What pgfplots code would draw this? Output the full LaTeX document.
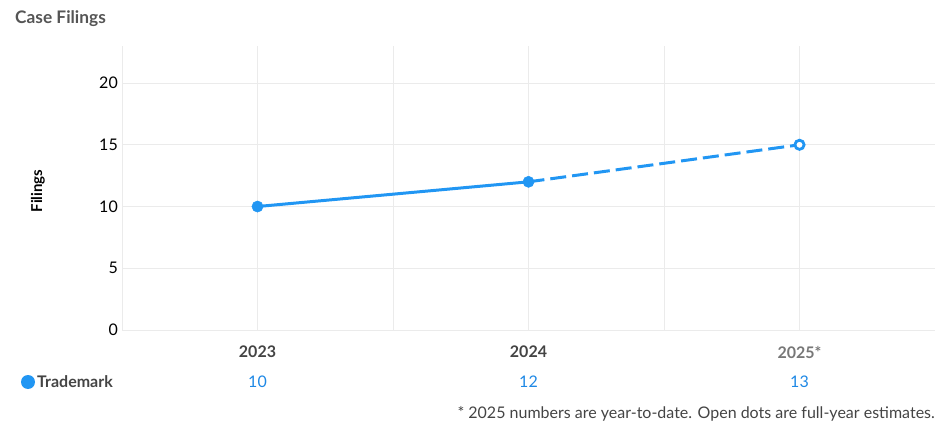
\documentclass[border=0pt]{standalone}
\usepackage{fontspec}
\setmainfont{Lato}
\usepackage{pgfplots}
\pgfplotsset{compat=1.18}
\definecolor{lineblue}{HTML}{2196F3}
\definecolor{valblue}{HTML}{1E88E5}
\definecolor{titlegray}{HTML}{555555}
\definecolor{labgray}{HTML}{444444}
\definecolor{lightlab}{HTML}{777777}
\definecolor{gridc}{HTML}{EBEBEB}
\begin{document}
\begin{tikzpicture}[x=1pt,y=1pt]
\path[use as bounding box] (0,0) rectangle (943,432);
\node[anchor=base west, inner sep=0pt, font=\fontsize{17.3}{20}\selectfont\bfseries, text=titlegray] at (15,408) {Case Filings};
\begin{axis}[
  at={(122pt,102pt)}, anchor=south west, scale only axis,
  width=813pt, height=284pt,
  xmin=-0.5, xmax=2.5, ymin=0, ymax=23,
  axis line style={draw=none}, tick style={draw=none},
  xtick={0,1,2}, xticklabels={},
  minor xtick={-0.5,0.5,1.5},
  ytick={0,5,10,15,20},
  grid=both,
  major grid style={draw=gridc, line width=1pt},
  minor grid style={draw=gridc, line width=1pt},
  /pgf/number format/assume math mode=true,
  yticklabel style={font=\fontsize{16}{19}\selectfont, text=black, inner sep=0pt, xshift=-4pt},
  clip=false,
]
\addplot[lineblue, line width=3pt, dash pattern=on 16pt off 6pt, mark=none] coordinates {(1,12) (2,15)};
\addplot[lineblue, line width=3pt, mark=*, mark size=5.6pt, mark options={solid, line width=0.5pt}] coordinates {(0,10) (1,12)};
\addplot[lineblue, only marks, mark=*, mark size=4.6pt, mark options={solid, fill=white, line width=2.8pt}] coordinates {(2,15)};
\node[font=\fontsize{16}{19}\selectfont\bfseries, text=labgray] at (axis cs:0,0) [yshift=-22pt] {2023};
\node[font=\fontsize{16}{19}\selectfont\bfseries, text=labgray] at (axis cs:1,0) [yshift=-22pt] {2024};
\node[font=\fontsize{16}{19}\selectfont\bfseries, text=lightlab] at (axis cs:2,0) [yshift=-22pt] {2025*};
\node[font=\fontsize{16}{19}\selectfont, text=valblue] at (axis cs:0,0) [yshift=-52pt] {10};
\node[font=\fontsize{16}{19}\selectfont, text=valblue] at (axis cs:1,0) [yshift=-52pt] {12};
\node[font=\fontsize{16}{19}\selectfont, text=valblue] at (axis cs:2,0) [yshift=-52pt] {13};
\end{axis}
\node[rotate=90, font=\fontsize{15}{18}\selectfont\bfseries, text=black] at (38,241) {Filings};
\fill[lineblue] (28,50) circle (7);
\node[anchor=west, inner sep=0pt, font=\fontsize{16}{19}\selectfont\bfseries, text=labgray] at (37,50) {Trademark};
\node[anchor=base east, inner sep=0pt, font=\fontsize{16}{19}\selectfont, text=labgray] at (935,14) {* 2025 numbers are year-to-date. Open dots are full-year estimates.};
\end{tikzpicture}
\end{document}
